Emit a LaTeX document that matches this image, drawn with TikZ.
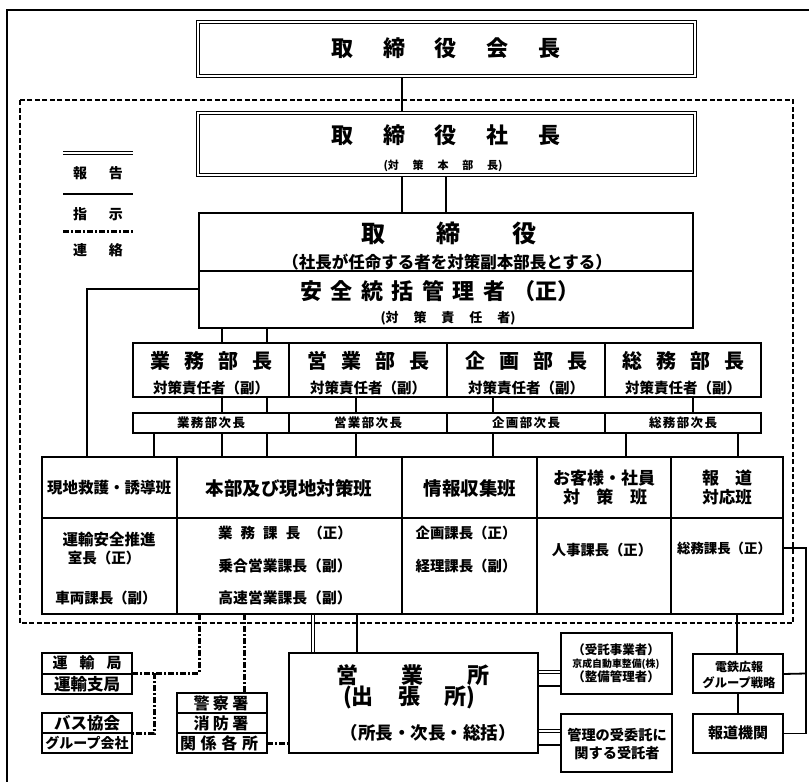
\documentclass[tikz,border=0pt]{standalone}
\usepackage{fontspec}
\setmainfont{Noto Sans CJK JP}
\newcommand{\fs}[1]{\fontsize{#1}{#1}\selectfont}
\newcommand{\bxat}[6][bx]{\node[#1, minimum width={#5-#3}, minimum height={#6-#4}] (#2) at ({(#3+#5)/2},{(#4+#6)/2}) {};}
\pgfdeclarelayer{lines}
\pgfsetlayers{lines,main}
\tikzset{
 base/.style={inner sep=0pt, outer sep=0pt},
 bx/.style={base, draw, line width=1.8pt, fill=white, rectangle},
 dbx/.style={base, draw, line width=1.3pt, double=white, double distance=1.6pt, fill=white, rectangle},
 tx/.style={base, font=\bfseries},
 shiji/.style={line width=1.8pt},
 houkoku/.style={line width=1pt, double, double distance=1.3pt},
 renraku/.style={line width=3pt, line cap=butt, dash pattern={on 6pt off 2pt on 2pt off 2pt}},
 hakai/.style={line width=1.4pt, dash pattern={on 5pt off 2.5pt}}
}
\begin{document}
\begin{tikzpicture}[x=1pt,y=-1pt]
\useasboundingbox (0,0) rectangle (809,782);
% ---------- boxes ----------
\bxat[dbx]{kaichou}{198}{22}{695}{76}
\bxat[dbx]{shachou}{198}{113}{695}{175}
\bxat{tori}{199}{213}{693}{271}
\bxat{anzen}{199}{271}{693}{328}
\bxat{b1}{133}{343}{289}{397}
\bxat{b2}{289}{343}{447}{397}
\bxat{b3}{447}{343}{605}{397}
\bxat{b4}{605}{343}{761}{397}
\bxat{j1}{133}{413}{289}{433}
\bxat{j2}{289}{413}{447}{433}
\bxat{j3}{447}{413}{605}{433}
\bxat{j4}{605}{413}{761}{433}
\bxat{h1}{42}{457}{177}{518}
\bxat{h2}{177}{457}{402}{518}
\bxat{h3}{402}{457}{537}{518}
\bxat{h4}{537}{457}{671}{518}
\bxat{h5}{671}{457}{783}{518}
\bxat{g1}{42}{518}{177}{614}
\bxat{g2}{177}{518}{402}{614}
\bxat{g3}{402}{518}{537}{614}
\bxat{g4}{537}{518}{671}{614}
\bxat{g5}{671}{518}{783}{614}
\bxat{eigyosho}{289}{653}{538}{753}
\bxat{jutaku}{561}{633}{672}{694}
\bxat{kanri}{561}{714}{672}{772}
\bxat{dentetsu}{693}{654}{783}{693}
\bxat{hodo}{693}{714}{783}{753}
\bxat{unyu1}{42}{653}{132}{674}
\bxat{unyu2}{42}{674}{132}{694}
\bxat{bus1}{42}{713}{132}{733}
\bxat{bus2}{42}{733}{132}{753}
\bxat{kei1}{177}{693}{267}{713}
\bxat{kei2}{177}{713}{267}{733}
\bxat{kei3}{177}{733}{267}{753}
% ---------- texts ----------
\node[tx] (tk) at (446,48) {\fs{22}\makebox[229pt]{取\hfill 締\hfill 役\hfill 会\hfill 長}};
\node[tx] (ts) at (446,135) {\fs{22}\makebox[229pt]{取\hfill 締\hfill 役\hfill 社\hfill 長}};
\node[tx] (ts2) at (443,166) {\fs{11}\makebox[119pt]{(対\hfill 策\hfill 本\hfill 部\hfill 長)}};
\node[tx] (tt) at (449,233) {\fs{24}\makebox[176pt]{取\hfill 締\hfill 役}};
\node[tx] (tt2) at (447,262) {\fs{16.5}（社長が任命する者を対策副本部長とする）};
\node[tx] (ta) at (440,291) {\fs{22}\makebox[279pt]{安\hfill 全\hfill 統\hfill 括\hfill 管\hfill 理\hfill 者\hfill（正）}};
\node[tx] (ta2) at (448,318) {\fs{13}\makebox[135pt]{(対\hfill 策\hfill 責\hfill 任\hfill 者)}};
\node[tx] (tb1) at (211,361) {\fs{20}\makebox[122pt]{業\hfill 務\hfill 部\hfill 長}};
\node[tx] (tb2) at (368,361) {\fs{20}\makebox[122pt]{営\hfill 業\hfill 部\hfill 長}};
\node[tx] (tb3) at (526,361) {\fs{20}\makebox[122pt]{企\hfill 画\hfill 部\hfill 長}};
\node[tx] (tb4) at (683,361) {\fs{20}\makebox[122pt]{総\hfill 務\hfill 部\hfill 長}};
\node[tx] (sb1) at (211,388) {\fs{14.5}対策責任者（副）};
\node[tx] (sb2) at (368,388) {\fs{14.5}対策責任者（副）};
\node[tx] (sb3) at (526,388) {\fs{14.5}対策責任者（副）};
\node[tx] (sb4) at (683,388) {\fs{14.5}対策責任者（副）};
\node[tx] (tj1) at (211,423) {\fs{12.5}\makebox[68pt]{業\hfill 務\hfill 部\hfill 次\hfill 長}};
\node[tx] (tj2) at (368,423) {\fs{12.5}\makebox[68pt]{営\hfill 業\hfill 部\hfill 次\hfill 長}};
\node[tx] (tj3) at (526,423) {\fs{12.5}\makebox[68pt]{企\hfill 画\hfill 部\hfill 次\hfill 長}};
\node[tx] (tj4) at (683,423) {\fs{12.5}\makebox[68pt]{総\hfill 務\hfill 部\hfill 次\hfill 長}};
\node[tx] (th1) at (109,488) {\fs{15.5}現地救護・誘導班};
\node[tx] (th2) at (289,488) {\fs{18.5}本部及び現地対策班};
\node[tx] (th3) at (470,488) {\fs{18.5}情報収集班};
\node[tx] (th4a) at (604,478) {\fs{17}お客様・社員};
\node[tx] (th4b) at (605,497) {\fs{17}\makebox[84pt]{対\hfill 策\hfill 班}};
\node[tx] (th5a) at (727,478) {\fs{17}\makebox[50pt]{報\hfill 道}};
\node[tx] (th5b) at (727,497) {\fs{16.5}対応班};
\node[tx] (tg1a) at (109,540) {\fs{15.5}運輸安全推進};
\node[tx] (tg1b) at (104,558) {\fs{14.5}室長（正）};
\node[tx] (tg1c) at (106,598) {\fs{14.5}車両課長（副）};
\node[tx] (tg2a) at (285,533) {\fs{14.5}\makebox[134pt]{業\hfill 務\hfill 課\hfill 長\hfill（正）}};
\node[tx] (tg2b) at (285,566) {\fs{14.8}乗合営業課長（副）};
\node[tx] (tg2c) at (285,598) {\fs{14.8}高速営業課長（副）};
\node[tx] (tg3a) at (466,533) {\fs{14.4}企画課長（正）};
\node[tx] (tg3b) at (466,566) {\fs{14.4}経理課長（副）};
\node[tx] (tg4) at (602,550) {\fs{14.3}人事課長（正）};
\node[tx] (tg5) at (724,548) {\fs{13.4}総務課長（正）};
\node[tx] (te1) at (413,675) {\fs{22}\makebox[153pt]{営\hfill 業\hfill 所}};
\node[tx] (te2) at (409,697) {\fs{22}\makebox[132pt]{(出\hfill 張\hfill 所)}};
\node[tx] (te3) at (428,733) {\fs{17.5}（所長・次長・総括）};
\node[tx] (tju1) at (616,650) {\fs{12.5}（受託事業者）};
\node[tx] (tju2) at (616,664) {\fs{9.9}京成自動車整備(株)};
\node[tx] (tju3) at (616,677) {\fs{12.5}（整備管理者）};
\node[tx] (tka1) at (617,735) {\fs{14.2}管理の受委託に};
\node[tx] (tka2) at (617,753) {\fs{14.2}関する受託者};
\node[tx] (tde1) at (739,667) {\fs{12}電鉄広報};
\node[tx] (tde2) at (739,683) {\fs{12.3}グループ戦略};
\node[tx] (tho) at (738,733) {\fs{15}報道機関};
\node[tx] (tu1) at (87,663) {\fs{15}\makebox[69pt]{運\hfill 輸\hfill 局}};
\node[tx] (tu2) at (87,684) {\fs{16.5}運輸支局};
\node[tx] (tbu1) at (87,723) {\fs{16.5}バス協会};
\node[tx] (tbu2) at (87,743) {\fs{14}グループ会社};
\node[tx] (tk1) at (221,703) {\fs{16}\makebox[55pt]{警\hfill 察\hfill 署}};
\node[tx] (tk2) at (221,723) {\fs{16}\makebox[55pt]{消\hfill 防\hfill 署}};
\node[tx] (tk3) at (219,743) {\fs{16}\makebox[78pt]{関\hfill 係\hfill 各\hfill 所}};
% legend
\node[tx] (lg1) at (98,173) {\fs{14}\makebox[50pt]{報\hfill 告}};
\node[tx] (lg2) at (98,214) {\fs{14}\makebox[50pt]{指\hfill 示}};
\node[tx] (lg3) at (98,250) {\fs{14}\makebox[50pt]{連\hfill 絡}};
% ---------- lines (behind) ----------
\begin{pgfonlayer}{lines}
\fill[white] (0,0) rectangle (809,782);
\draw[line width=1.6pt] (809,10) -- (7,10) -- (7,782);
\draw[hakai] (20,100) rectangle (793,623);
\coordinate (l1a) at (63,153); \coordinate (l1b) at (133,153);
\coordinate (l2a) at (63,194); \coordinate (l2b) at (133,194);
\coordinate (l3a) at (63,231); \coordinate (l3b) at (133,231);
\draw[houkoku] (l1a) -- (l1b);
\draw[shiji] (l2a) -- (l2b);
\draw[renraku] (l3a) -- (l3b);
\draw[shiji] (kaichou.south -| 402,0) -- (shachou.north -| 402,0);
\draw[shiji] (shachou.south -| 402,0) -- (tori.north -| 402,0);
\draw[shiji] (shachou.south -| 446,0) -- (tori.north -| 446,0);
\draw[shiji] (anzen.south -| 222,0) -- (h2.north -| 222,0);
\draw[shiji] (anzen.south -| 267,0) -- (h2.north -| 267,0);
\draw[shiji] (anzen.west |- 0,289) -| (h1.north -| 87,0);
\draw[shiji] (b2.south -| 356,0) -- (h2.north -| 356,0);
\draw[shiji] (j1.south -| 154,0) -- (h1.north -| 154,0);
\draw[shiji] (b3.south -| 493,0) -- (h3.north -| 493,0);
\draw[shiji] (b4.south -| 693,0) -- (j4.north -| 693,0);
\draw[shiji] (j4.south -| 626,0) -- (h4.north -| 626,0);
\draw[shiji] (j4.south -| 738,0) -- (h5.north -| 738,0);
\coordinate (jn) at (154,673);
\draw[renraku] (g1.south -| 199,0) |- (unyu1.east |- jn);
\draw[renraku] (jn) |- (bus2.east |- 0,733);
\draw[renraku] (g2.south -| 244,0) -- (kei1.north -| 244,0);
\draw[renraku] (kei3.east) -- (eigyosho.west |- kei3.east);
\draw[houkoku] (g2.south -| 313,0) -- (eigyosho.north -| 313,0);
\draw[shiji] (g2.south -| 357,0) -- (eigyosho.north -| 357,0);
\draw[houkoku] (eigyosho.east |- 0,672) -- (jutaku.west |- 0,672);
\draw[shiji] (eigyosho.east |- 0,686) -- (jutaku.west |- 0,686);
\draw[houkoku] (eigyosho.east |- 0,731) -- (kanri.west |- 0,731);
\draw[shiji] (eigyosho.east |- 0,745) -- (kanri.west |- 0,745);
\draw[shiji] (g5.south -| 737,0) -- (dentetsu.north -| 737,0);
\draw[shiji] (dentetsu.south -| 738,0) -- (hodo.north -| 738,0);
\coordinate (rc) at (806,548);
\draw[shiji] (g5.east |- rc) -- (rc) |- (hodo.east);
\draw[shiji] (dentetsu.east |- 0,674) -- (dentetsu.east -| rc);
\end{pgfonlayer}
\end{tikzpicture}
\end{document}
